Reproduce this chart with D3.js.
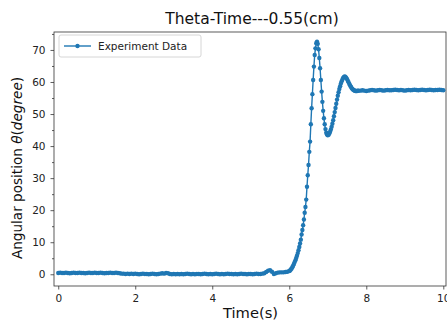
<!DOCTYPE html>
<html>
<head>
<meta charset="utf-8">
<script src="https://cdn.jsdelivr.net/npm/d3@7"></script>
<style>
  body { margin: 0; background: #fff; }
  svg { display: block; font-family: "DejaVu Sans", sans-serif; }
</style>
</head>
<body>
<svg id="chart" width="447" height="324"></svg>
<script>
const timeStart = [0,0.05,0.1,0.15,0.2,0.25,0.3,0.35,0.4,0.45,0.5,0.55,0.6,0.65,0.7,0.75,0.8,0.85,0.9,0.95,
  1,1.05,1.1,1.15,1.2,1.25,1.3,1.35,1.4,1.45,1.5,1.55,1.6,1.65,1.7,1.75,1.8,1.85,1.9,1.95,
  2,2.05,2.1,2.15,2.2,2.25,2.3,2.35,2.4,2.45,2.5,2.55,2.6,2.65,2.7,2.75,2.8,2.85,2.9,2.95,
  3,3.05,3.1,3.15,3.2,3.25,3.3,3.35,3.4,3.45,3.5,3.55,3.6,3.65,3.7,3.75,3.8,3.85,3.9,3.95,
  4,4.05,4.1,4.15,4.2,4.25,4.3,4.35,4.4,4.45,4.5,4.55,4.6,4.65,4.7,4.75,4.8,4.85,4.9,4.95,
  5,5.05,5.1,5.15,5.2,5.25,5.3,5.35,5.4,5.45,5.5,5.55,5.6,5.65,5.7,5.75,5.8,5.85,5.9,5.95];
const thetaStart = [0.4,0.5,0.4,0.4,0.5,0.4,0.3,0.4,0.5,0.4,0.4,0.5,0.4,0.4,0.3,0.4,0.5,0.4,0.4,0.5,
  0.4,0.4,0.5,0.4,0.3,0.4,0.4,0.5,0.4,0.4,0.5,0.4,0.3,0.2,0.2,0.1,0.2,0.1,0.2,0.1,
  0.2,0.1,0.0,0.1,0.2,0.1,0.1,0.0,0.1,0.2,0.1,0.0,0.1,0.2,0.3,0.2,0.4,0.3,0.1,0.0,
  0.1,0.0,0.1,0.0,0.1,0.0,0.1,0.2,0.1,0.0,0.1,0.0,0.1,0.1,0.0,0.1,0.2,0.1,0.0,0.1,
  0.0,0.1,0.2,0.1,0.0,0.1,0.0,0.1,0.2,0.1,0.1,0.0,0.1,0.0,0.1,0.2,0.1,0.1,0.0,0.1,
  0.1,0.0,0.1,0.2,0.1,0.1,0.2,0.3,0.7,1.1,1.3,0.8,0.1,0.3,0.5,0.6,0.6,0.6,0.7,0.8];

const timeSwing = [6,6.02,6.04,6.06,6.08,6.1,6.12,6.14,6.16,6.18,6.2,6.22,6.24,6.26,6.28,6.3,6.32,6.34,6.36,6.38,
  6.4,6.42,6.44,6.46,6.48,6.5,6.52,6.54,6.56,6.58,6.6,6.62,6.64,6.66,6.68,6.7,6.72,6.74,6.76,6.78,
  6.8,6.82,6.84,6.86,6.88,6.9,6.92,6.94,6.96,6.98,7,7.02,7.04,7.06,7.08,7.1,7.12,7.14,7.16,7.18,
  7.2,7.22,7.24,7.26,7.28,7.3,7.32,7.34,7.36,7.38,7.4,7.42,7.44,7.46,7.48,7.5,7.52,7.54,7.56,7.58,
  7.6,7.62,7.64,7.66,7.68,7.7,7.72,7.74,7.76,7.78,7.8];
const thetaSwing = [1.0,1.2,1.5,1.8,2.2,2.7,3.2,3.8,4.4,5.1,5.8,6.6,7.5,8.5,9.6,10.8,12.4,13.8,15.3,17.1,
  19.2,21.0,23.3,27.3,30.9,34.1,38.2,41.4,46.8,51.8,56.2,60.6,64.8,68.4,70.5,72.1,72.6,71.9,70.2,67.5,
  64.3,60.6,57.0,53.8,51.0,48.7,46.8,45.3,44.2,43.6,43.4,43.5,43.9,44.5,45.2,46.0,47.0,48.1,49.3,50.6,
  51.9,53.2,54.5,55.7,56.8,57.8,58.7,59.5,60.2,60.8,61.3,61.6,61.7,61.6,61.3,60.9,60.4,59.9,59.4,58.9,
  58.5,58.1,57.8,57.6,57.4,57.3,57.2,57.2,57.2,57.3,57.3];

const timeEnd = [7.85,7.9,7.95,8,8.05,8.1,8.15,8.2,8.25,8.3,8.35,8.4,8.45,8.5,8.55,8.6,8.65,8.7,8.75,8.8,
  8.85,8.9,8.95,9,9.05,9.1,9.15,9.2,9.25,9.3,9.35,9.4,9.45,9.5,9.55,9.6,9.65,9.7,9.75,9.8,9.85,9.9,9.95,10];
const thetaEnd = [57.3,57.4,57.3,57.2,57.3,57.4,57.5,57.4,57.3,57.4,57.5,57.4,57.3,57.4,57.5,57.4,57.4,57.5,57.6,57.5,
  57.4,57.5,57.4,57.3,57.4,57.5,57.4,57.5,57.6,57.5,57.4,57.5,57.6,57.5,57.4,57.5,57.6,57.5,57.4,57.5,57.5,57.6,57.5,57.4];

const xTicks = [0, 2, 4, 6, 8, 10];
const yTicks = [0, 10, 20, 30, 40, 50, 60, 70];
const yMinorTicks = [5, 15, 25, 35, 45, 55, 65, 75];

function drawChart() {
    const svg = d3.select('#chart');
    const plot = { left: 54, right: 446, top: 32, bottom: 286 };
    const color = '#1f77b4';

    const times = timeStart.concat(timeSwing, timeEnd);
    const thetas = thetaStart.concat(thetaSwing, thetaEnd);
    const data = times.map((t, i) => ({ t: t, v: thetas[i] }));

    const x = d3.scaleLinear().domain([-0.11, 10.07]).range([plot.left, plot.right]);
    const y = d3.scaleLinear().domain([-3.66, 75.6]).range([plot.bottom, plot.top]);

    // Axes
    const xAxis = svg.append('g')
        .attr('transform', `translate(0,${plot.bottom})`)
        .call(d3.axisBottom(x).tickValues(xTicks).tickSize(3.5).tickPadding(5).tickFormat(d3.format('d')));
    const yAxis = svg.append('g')
        .attr('transform', `translate(${plot.left},0)`)
        .call(d3.axisLeft(y).tickValues(yTicks).tickSize(3.5).tickPadding(5).tickFormat(d3.format('d')));
    svg.append('g')
        .attr('transform', `translate(${plot.left},0)`)
        .call(d3.axisLeft(y).tickValues(yMinorTicks.filter(v => v < 75.6)).tickSize(2).tickFormat(''))
        .select('.domain').remove();

    [xAxis, yAxis].forEach(a => {
        a.select('.domain').remove();
        a.selectAll('.tick text').attr('fill', '#222').style('font-size', '10.5px')
            .style('font-family', '"DejaVu Sans", sans-serif');
    });
    svg.selectAll('.tick line').attr('stroke', '#333').attr('stroke-width', 0.8);

    // Frame
    svg.append('rect')
        .attr('x', plot.left).attr('y', plot.top)
        .attr('width', plot.right - plot.left).attr('height', plot.bottom - plot.top)
        .attr('fill', 'none').attr('stroke', '#333').attr('stroke-width', 0.8);

    // Line and markers
    const line = d3.line().x(d => x(d.t)).y(d => y(d.v));
    svg.append('path')
        .datum(data)
        .attr('d', line)
        .attr('fill', 'none')
        .attr('stroke', color)
        .attr('stroke-width', 1.4);
    svg.append('g').selectAll('circle')
        .data(data)
        .enter().append('circle')
        .attr('cx', d => x(d.t))
        .attr('cy', d => y(d.v))
        .attr('r', 2.2)
        .attr('fill', color);

    // Legend
    const legend = svg.append('g');
    legend.append('rect')
        .attr('x', 59).attr('y', 35).attr('width', 142).attr('height', 22)
        .attr('rx', 2)
        .attr('fill', 'white').attr('fill-opacity', 0.8)
        .attr('stroke', '#ccc').attr('stroke-width', 0.8);
    legend.append('line')
        .attr('x1', 64).attr('x2', 91).attr('y1', 46).attr('y2', 46)
        .attr('stroke', color).attr('stroke-width', 1.4);
    legend.append('circle')
        .attr('cx', 77.5).attr('cy', 46).attr('r', 2.2).attr('fill', color);
    legend.append('text')
        .attr('x', 98).attr('y', 50)
        .style('font-size', '10.5px')
        .attr('fill', '#222')
        .text('Experiment Data');

    // Title and labels
    svg.append('text')
        .attr('x', 252).attr('y', 24)
        .attr('text-anchor', 'middle')
        .style('font-size', '15.5px')
        .attr('fill', '#111')
        .text('Theta-Time---0.55(cm)');

    svg.append('text')
        .attr('x', 250.5).attr('y', 318)
        .attr('text-anchor', 'middle')
        .style('font-size', '14.7px')
        .attr('fill', '#111')
        .text('Time(s)');

    const yLabel = svg.append('text')
        .attr('transform', 'translate(22,168) rotate(-90)')
        .attr('text-anchor', 'middle')
        .style('font-size', '13.6px')
        .attr('fill', '#111');
    yLabel.append('tspan').text('Angular position ');
    yLabel.append('tspan').style('font-style', 'italic').text('θ');
    yLabel.append('tspan').text('(');
    yLabel.append('tspan').style('font-style', 'italic').text('degree');
    yLabel.append('tspan').text(')');
}

window.addEventListener('load', drawChart);
</script>
</body>
</html>
